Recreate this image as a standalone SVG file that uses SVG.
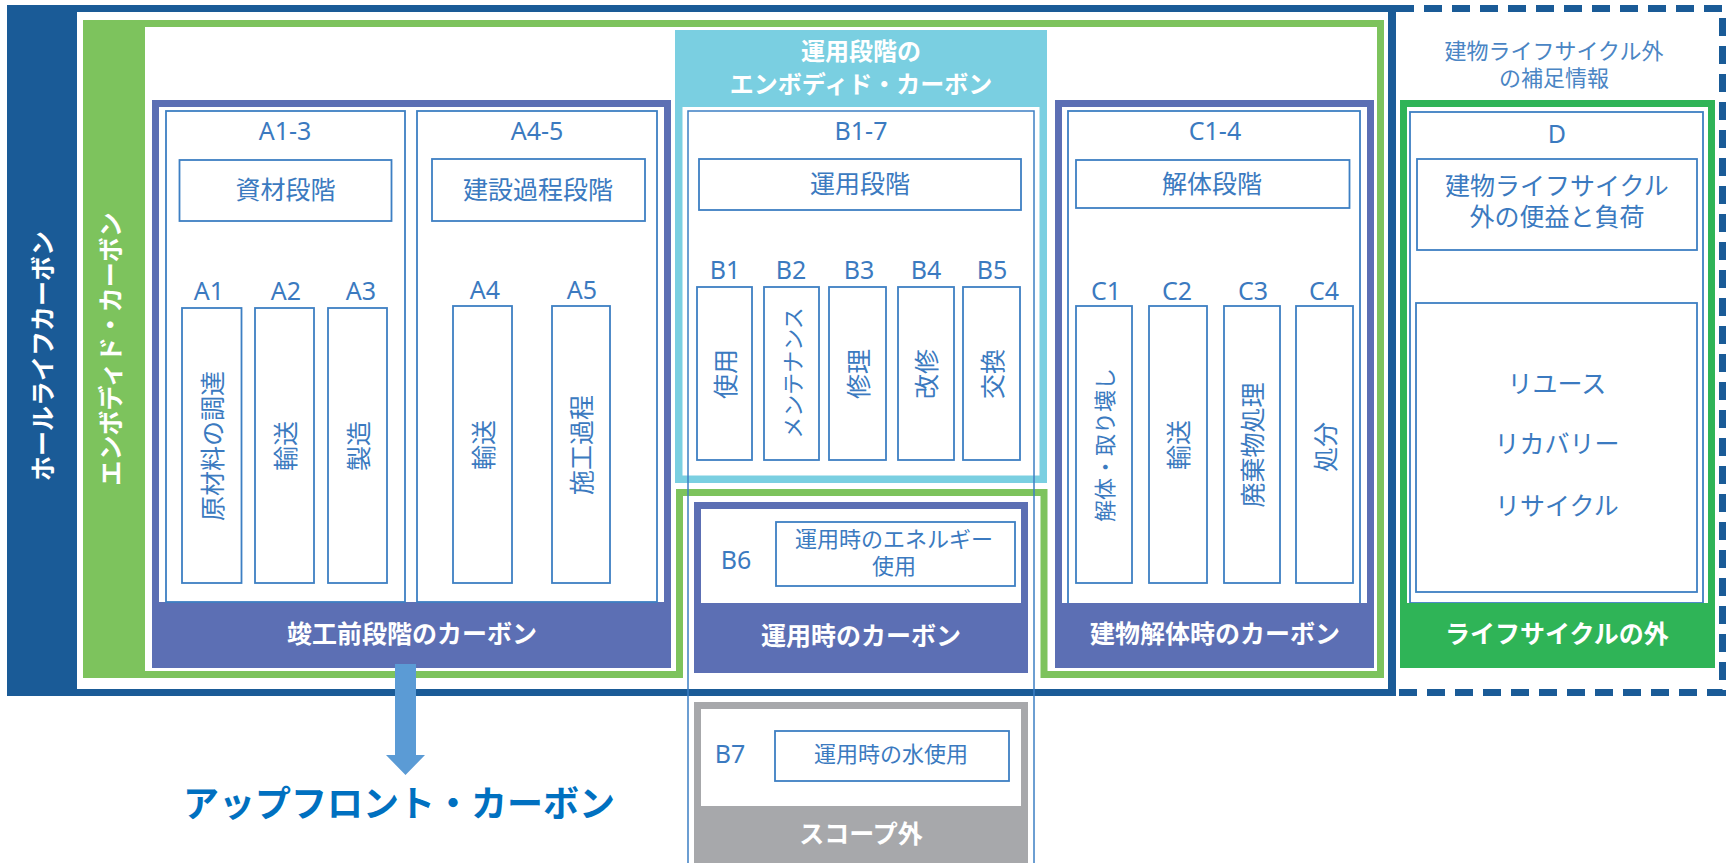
<svg xmlns="http://www.w3.org/2000/svg" width="1729" height="863" viewBox="0 0 1729 863">
<style>
text{font-family:"Noto Sans","Noto Sans CJK JP",sans-serif;text-anchor:middle;dominant-baseline:central}
.l{fill:#3B7AC0;font-size:25px}
.j{fill:#3B7AC0;font-size:25px}
.s{fill:#3B7AC0;font-size:22px}
.w{fill:#fff;font-size:25px;font-weight:bold}
.bx{fill:#fff;stroke:#3D7FC3;stroke-width:1.8}
.tl{fill:none;stroke:#3D7FC3;stroke-width:1.5}
</style>
<rect width="1729" height="863" fill="#fff"/>

<g id="wholelife">
<rect x="7" y="5" width="70" height="691" fill="#1A5B97"/>
<rect x="7" y="5" width="1389" height="7" fill="#1A5B97"/>
<rect x="7" y="689" width="1389" height="7" fill="#1A5B97"/>
<rect x="1388" y="5" width="8" height="691" fill="#1A5B97"/>
<text class="w" transform="translate(42,356) rotate(-90)">ホールライフカーボン</text>
</g>

<g id="outside-info">
<path d="M1396 8.5 H1722.5 V692.5 H1396" fill="none" stroke="#1A5B97" stroke-width="7" stroke-dasharray="18 10"/>
<text class="s" x="1554" y="50" style="fill:#4A85C4">建物ライフサイクル外</text>
<text class="s" x="1554" y="77" style="fill:#4A85C4">の補足情報</text>
</g>

<g id="embodied">
<rect x="83" y="20" width="62" height="658" fill="#7DC35D"/>
<path d="M83 23.5 H1380.5 V674.5 H1044 V492.5 H679.5 V674.5 H83" fill="none" stroke="#7DC35D" stroke-width="7"/>
<text class="w" transform="translate(110,349) rotate(-90)">エンボディド・カーボン</text>
</g>

<g id="groupA">
<rect x="155.5" y="103.5" width="512" height="561" fill="#fff" stroke="#5C6FB4" stroke-width="7"/>
<rect x="152" y="602" width="519" height="66" fill="#5C6FB4"/>
<text class="w" x="412" y="633">竣工前段階のカーボン</text>
</g>

<g id="A1-3">
<rect class="bx" x="166" y="111" width="239" height="491"/>
<text class="l" x="285" y="130">A1-3</text>
<rect class="bx" x="179.5" y="160" width="212" height="61"/>
<text class="j" x="285.5" y="189">資材段階</text>
<text class="l" x="209" y="290">A1</text>
<text class="l" x="286" y="290">A2</text>
<text class="l" x="361" y="290">A3</text>
<rect class="bx" x="182" y="308" width="59.5" height="275"/>
<rect class="bx" x="255" y="308" width="59" height="275"/>
<rect class="bx" x="328" y="308" width="59" height="275"/>
<text class="j" transform="translate(211.5,446) rotate(-90)">原材料の調達</text>
<text class="j" transform="translate(284.5,446) rotate(-90)">輸送</text>
<text class="j" transform="translate(357.5,446) rotate(-90)">製造</text>
</g>

<g id="A4-5">
<rect class="bx" x="417" y="111" width="240" height="491"/>
<text class="l" x="537" y="130">A4-5</text>
<rect class="bx" x="432" y="159" width="213" height="62"/>
<text class="j" x="538" y="189">建設過程段階</text>
<text class="l" x="485" y="289">A4</text>
<text class="l" x="582" y="289">A5</text>
<rect class="bx" x="453" y="306" width="59" height="277"/>
<rect class="bx" x="552" y="306" width="58" height="277"/>
<text class="j" transform="translate(482.5,445) rotate(-90)">輸送</text>
<text class="j" transform="translate(581,445) rotate(-90)">施工過程</text>
</g>

<g id="B1-5">
<rect x="678.75" y="33.75" width="364.5" height="445.5" fill="#fff" stroke="#7ACFE1" stroke-width="7.5"/>
<rect x="675" y="30" width="372" height="77" fill="#7ACFE1"/>
<text class="w" x="861" y="50" style="font-size:24px">運用段階の</text>
<text class="w" x="861" y="83" style="font-size:24px">エンボディド・カーボン</text>
<text class="l" x="861" y="130">B1-7</text>
<rect class="bx" x="699" y="159" width="322" height="51"/>
<text class="j" x="860" y="183">運用段階</text>
<text class="l" x="725" y="269">B1</text>
<text class="l" x="791" y="269">B2</text>
<text class="l" x="859" y="269">B3</text>
<text class="l" x="926" y="269">B4</text>
<text class="l" x="992" y="269">B5</text>
<rect class="bx" x="697" y="287" width="55" height="173"/>
<rect class="bx" x="764" y="287" width="55" height="173"/>
<rect class="bx" x="829" y="287" width="57" height="173"/>
<rect class="bx" x="898" y="287" width="56" height="173"/>
<rect class="bx" x="963" y="287" width="57" height="173"/>
<text class="j" transform="translate(724.5,374) rotate(-90)">使用</text>
<text class="s" transform="translate(791.5,373) rotate(-90)">メンテナンス</text>
<text class="j" transform="translate(857.5,374) rotate(-90)">修理</text>
<text class="j" transform="translate(926,374) rotate(-90)">改修</text>
<text class="j" transform="translate(991.5,374) rotate(-90)">交換</text>
</g>

<g id="B6">
<rect x="697.5" y="505.5" width="327" height="164" fill="#fff" stroke="#5C6FB4" stroke-width="7"/>
<rect x="694" y="603" width="334" height="70" fill="#5C6FB4"/>
<text class="l" x="736" y="559">B6</text>
<rect class="bx" x="776" y="522" width="239" height="64"/>
<text class="s" x="894" y="538">運用時のエネルギー</text>
<text class="s" x="894" y="565">使用</text>
<text class="w" x="861" y="635">運用時のカーボン</text>
</g>

<g id="B7">
<rect x="697.5" y="705.5" width="327" height="170" fill="#fff" stroke="#A7A8AB" stroke-width="7"/>
<rect x="694" y="806" width="334" height="70" fill="#A7A8AB"/>
<text class="l" x="730" y="753">B7</text>
<rect class="bx" x="775" y="731" width="234" height="50"/>
<text class="s" x="891" y="753">運用時の水使用</text>
<text class="w" x="861" y="833">スコープ外</text>
</g>

<g id="C1-4">
<rect x="1058.5" y="103.5" width="312" height="561" fill="#fff" stroke="#5C6FB4" stroke-width="7"/>
<rect class="bx" x="1068" y="111" width="292" height="493"/>
<rect x="1055" y="603" width="319" height="65" fill="#5C6FB4"/>
<text class="w" x="1215" y="633">建物解体時のカーボン</text>
<text class="l" x="1215" y="130">C1-4</text>
<rect class="bx" x="1076" y="160" width="273.5" height="48"/>
<text class="j" x="1212" y="183">解体段階</text>
<text class="l" x="1106" y="290">C1</text>
<text class="l" x="1177" y="290">C2</text>
<text class="l" x="1253" y="290">C3</text>
<text class="l" x="1324" y="290">C4</text>
<rect class="bx" x="1076" y="306" width="56" height="277"/>
<rect class="bx" x="1149" y="306" width="58" height="277"/>
<rect class="bx" x="1224" y="306" width="56" height="277"/>
<rect class="bx" x="1296" y="306" width="57" height="277"/>
<text class="s" transform="translate(1104,445) rotate(-90)">解体・取り壊し</text>
<text class="j" transform="translate(1178,445) rotate(-90)">輸送</text>
<text class="j" transform="translate(1252,445) rotate(-90)">廃棄物処理</text>
<text class="j" transform="translate(1324.5,447) rotate(-90)">処分</text>
</g>

<g id="D">
<rect x="1403.5" y="103.5" width="308" height="561" fill="#fff" stroke="#2FB457" stroke-width="7"/>
<rect class="bx" x="1410" y="112" width="293" height="491"/>
<rect x="1400" y="603" width="315" height="65" fill="#2FB457"/>
<text class="w" x="1557" y="633">ライフサイクルの外</text>
<text class="l" x="1557" y="133">D</text>
<rect class="bx" x="1417" y="159" width="280" height="91"/>
<text class="j" x="1557" y="185">建物ライフサイクル</text>
<text class="j" x="1557" y="216">外の便益と負荷</text>
<rect class="bx" x="1416" y="303" width="281" height="289"/>
<text class="j" x="1557" y="383">リユース</text>
<text class="j" x="1557" y="443">リカバリー</text>
<text class="j" x="1557" y="505">リサイクル</text>
</g>

<g id="B1-7-frame">
<rect class="tl" x="688" y="111" width="346" height="770"/>
</g>

<g id="connectors">
<polygon points="395,664 416,664 416,755 425,755 405.5,775 386,755 395,755" fill="#5B9BD5"/>
</g>

<g id="upfront">
<text x="399" y="803" style="fill:#0070C0;font-size:36px;font-weight:bold">アップフロント・カーボン</text>
</g>
</svg>
